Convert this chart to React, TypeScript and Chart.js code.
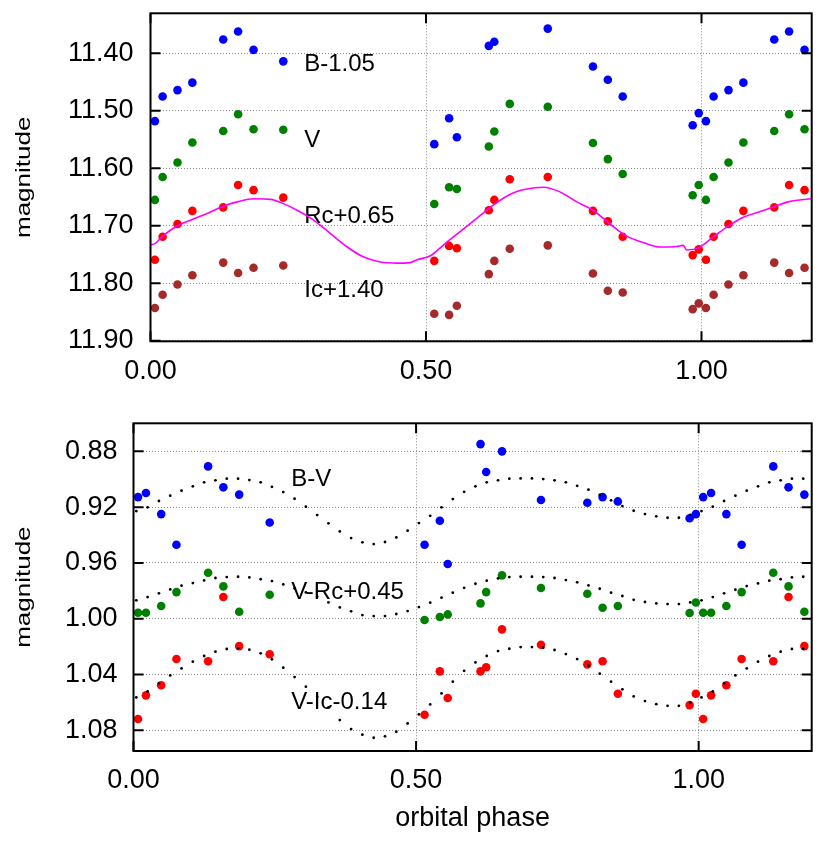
import { useEffect, useRef } from "react";
import { Chart, registerables } from "chart.js";

Chart.register(...registerables);

const FONT = "'Liberation Sans', Arial, Helvetica, sans-serif";

// ---- observed phases (base cycle) ----
const PHASE = [0.008, 0.022, 0.049, 0.076, 0.132, 0.159, 0.187, 0.241, 0.515, 0.542,
  0.556, 0.614, 0.624, 0.652, 0.721, 0.803, 0.830, 0.857, 0.984, 0.995];

// ---- top panel magnitudes ----
const B_SHIFTED = [11.518, 11.475, 11.464, 11.451, 11.376, 11.362, 11.394, 11.414, 11.558, 11.513,
  11.546, 11.387, 11.380, null, 11.357, 11.423, 11.446, 11.475, 11.525, 11.504];
const V_MAG = [11.655, 11.615, 11.590, 11.555, 11.535, 11.506, 11.532, 11.533, 11.662, 11.633,
  11.636, 11.562, 11.536, 11.488, 11.493, 11.556, 11.584, 11.610, 11.647, 11.629];
const RC_SHIFTED = [11.759, 11.719, 11.697, 11.674, 11.668, 11.629, 11.638, 11.651, 11.761, 11.735,
  11.739, 11.673, 11.655, 11.619, 11.615, 11.674, 11.692, 11.719, 11.751, 11.741];
const IC_SHIFTED = [11.843, 11.820, 11.802, 11.786, 11.764, 11.782, 11.773, 11.769, 11.853, 11.855,
  11.839, 11.784, 11.761, 11.740, 11.734, 11.783, 11.813, 11.816, 11.845, 11.835];

// ---- top panel continuous light curve (magenta) ----
const LC_PHASE = [0.000, 0.008, 0.022, 0.049, 0.076, 0.104, 0.132, 0.159, 0.187, 0.218,
  0.240, 0.266, 0.296, 0.326, 0.356, 0.386, 0.417, 0.447, 0.471, 0.484, 0.508,
  0.532, 0.562, 0.592, 0.622, 0.653, 0.683, 0.713, 0.743, 0.773, 0.803, 0.833, 0.864,
  0.894, 0.924, 0.955, 0.967, 0.973, 0.995, 1.022, 1.049, 1.076, 1.104, 1.131, 1.159, 1.200];
const LC_MAG = [11.733, 11.731, 11.718, 11.700, 11.689, 11.678, 11.666, 11.658, 11.653, 11.654,
  11.661, 11.673, 11.690, 11.713, 11.736, 11.754, 11.763, 11.765, 11.764, 11.759, 11.752,
  11.733, 11.710, 11.687, 11.664, 11.645, 11.636, 11.633, 11.641, 11.658, 11.673, 11.696, 11.718,
  11.729, 11.737, 11.736, 11.734, 11.742, 11.738, 11.719, 11.700, 11.685, 11.676, 11.667, 11.658, 11.653];

// ---- bottom panel colour indices ----
const BV = [0.9128, 0.9099, 0.925, 0.947, 0.8908, 0.9058, 0.911, 0.931, 0.947, 0.9297,
  0.9608, 0.8748, 0.8948, 0.880, 0.9149, 0.9168, 0.9128, 0.9159, 0.928, 0.925];
const VRC = [0.9957, 0.9957, 0.9909, 0.9809, 0.967, 0.9768, 0.995, 0.9828, 1.0009, 0.9988,
  0.9969, 0.989, 0.9809, 0.9689, 0.978, 0.9821, 0.9921, 0.9909, 0.9959, 0.9883];
const VIC = [1.0719, 1.0549, 1.0477, 1.0289, 1.0305, 0.9844, 1.0196, 1.0255, 1.0688, 1.0377,
  1.0568, 1.0377, 1.0348, 1.0076, 1.0186, 1.0327, 1.0305, 1.0538, 1.0619, 1.0538];

// ---- bottom panel model curves (dotted) ----
const CURVE_PHASE = [0.005, 0.025, 0.045, 0.065, 0.085, 0.105, 0.125, 0.145, 0.165, 0.185,
  0.205, 0.225, 0.245, 0.265, 0.285, 0.305, 0.325, 0.345, 0.365, 0.385,
  0.405, 0.425, 0.445, 0.465, 0.485, 0.505, 0.525, 0.545, 0.565, 0.585,
  0.605, 0.625, 0.645, 0.665, 0.685, 0.705, 0.725, 0.745, 0.765, 0.785,
  0.805, 0.825, 0.845, 0.865, 0.885, 0.905, 0.925, 0.945, 0.965, 0.985,
  1.005, 1.025, 1.045, 1.065, 1.085, 1.105, 1.125, 1.145, 1.165, 1.185];
const BV_CURVE = [0.9228, 0.9201, 0.9156, 0.9118, 0.9082, 0.9051, 0.9022, 0.9008, 0.8996, 0.8996,
  0.9006, 0.9022, 0.9054, 0.9092, 0.9140, 0.9197, 0.9257, 0.9316, 0.9374, 0.9422,
  0.9452, 0.9465, 0.9450, 0.9417, 0.9369, 0.9314, 0.9262, 0.9201, 0.9142, 0.9090,
  0.9051, 0.9022, 0.9008, 0.8996, 0.8994, 0.8994, 0.8999, 0.9008, 0.9022, 0.9047,
  0.9075, 0.9113, 0.9151, 0.9192, 0.9226, 0.9250, 0.9266, 0.9276, 0.9276, 0.9255,
  0.9228, 0.9197, 0.9156, 0.9118, 0.9082, 0.9051, 0.9022, 0.9008, 0.8996, 0.8996];
const VRC_CURVE = [0.9868, 0.9845, 0.9818, 0.9790, 0.9763, 0.9744, 0.9725, 0.9708, 0.9701, 0.9699,
  0.9704, 0.9716, 0.9730, 0.9754, 0.9782, 0.9811, 0.9842, 0.9883, 0.9919, 0.9947,
  0.9974, 0.9981, 0.9981, 0.9966, 0.9945, 0.9916, 0.9885, 0.9849, 0.9813, 0.9778,
  0.9749, 0.9727, 0.9711, 0.9701, 0.9699, 0.9699, 0.9701, 0.9708, 0.9723, 0.9739,
  0.9761, 0.9785, 0.9813, 0.9837, 0.9864, 0.9880, 0.9890, 0.9895, 0.9895, 0.9883,
  0.9868, 0.9845, 0.9818, 0.9792, 0.9766, 0.9747, 0.9727, 0.9716, 0.9704, 0.9699];
const VIC_CURVE = [1.0564, 1.0521, 1.0463, 1.0406, 1.0356, 1.0308, 1.0267, 1.0236, 1.0217, 1.0212,
  1.0222, 1.0248, 1.0291, 1.0351, 1.0418, 1.0487, 1.0559, 1.0636, 1.0726, 1.0791,
  1.0831, 1.0853, 1.0843, 1.0810, 1.0750, 1.0686, 1.0614, 1.0535, 1.0451, 1.0373,
  1.0313, 1.0267, 1.0232, 1.0215, 1.0203, 1.0203, 1.0208, 1.0224, 1.0253, 1.0289,
  1.0337, 1.0394, 1.0451, 1.0506, 1.0557, 1.0590, 1.0612, 1.0624, 1.0624, 1.0602,
  1.0564, 1.0521, 1.0463, 1.0406, 1.0356, 1.0308, 1.0267, 1.0236, 1.0217, 1.0215];

// ---- ticks ----
const X_TICKS = [0, 0.5, 1.0];
const TOP_Y_TICKS = [11.4, 11.5, 11.6, 11.7, 11.8, 11.9];
const BOTTOM_Y_TICKS = [0.88, 0.92, 0.96, 1.0, 1.04, 1.08];

// ---- in-plot labels ----
const TOP_LABEL_TEXT = ["B-1.05", "V", "Rc+0.65", "Ic+1.40"];
const TOP_LABEL_X = [0.279, 0.279, 0.279, 0.279];
const TOP_LABEL_Y = [11.420, 11.552, 11.683, 11.812];
const BOTTOM_LABEL_TEXT = ["B-V", "V-Rc+0.45", "V-Ic-0.14"];
const BOTTOM_LABEL_X = [0.279, 0.279, 0.279];
const BOTTOM_LABEL_Y = [0.900, 0.9814, 1.0601];

const X_MAX = 1.2;

function folded(values: (number | null)[]) {
  const pts: { x: number; y: number }[] = [];
  PHASE.forEach((p, i) => {
    const v = values[i];
    if (v == null) return;
    pts.push({ x: p, y: v });
    if (p + 1 <= X_MAX) pts.push({ x: p + 1, y: v });
  });
  return pts;
}

function pairs(xs: number[], ys: number[]) {
  return xs.map((x, i) => ({ x, y: ys[i] }));
}

const decorPlugin = {
  id: "decor",
  beforeDatasetsDraw(chart: any, _a: any, opts: any) {
    const { ctx, scales } = chart;
    ctx.save();
    ctx.fillStyle = "#000";
    ctx.font = `24px ${FONT}`;
    ctx.textAlign = "left";
    ctx.textBaseline = "middle";
    opts.labels.forEach((l: any) => {
      ctx.fillText(l.text, scales.x.getPixelForValue(l.x), scales.y.getPixelForValue(l.y));
    });
    ctx.restore();
  },
  afterDatasetsDraw(chart: any) {
    const { ctx, chartArea: a, scales } = chart;
    ctx.save();
    ctx.strokeStyle = "#000";
    ctx.lineWidth = 2;
    ctx.beginPath();
    scales.y.ticks.forEach((t: any) => {
      const py = scales.y.getPixelForValue(t.value);
      ctx.moveTo(a.left, py);
      ctx.lineTo(a.left + 10, py);
      ctx.moveTo(a.right - 10, py);
      ctx.lineTo(a.right, py);
    });
    scales.x.ticks.forEach((t: any) => {
      const px = scales.x.getPixelForValue(t.value);
      ctx.moveTo(px, a.bottom);
      ctx.lineTo(px, a.bottom - 10);
      ctx.moveTo(px, a.top);
      ctx.lineTo(px, a.top + 10);
    });
    ctx.stroke();
    ctx.strokeRect(a.left, a.top, a.right - a.left, a.bottom - a.top);
    ctx.restore();
  },
  afterDraw(chart: any, _a: any, opts: any) {
    const { ctx, chartArea: a } = chart;
    ctx.save();
    ctx.fillStyle = "#000";
    ctx.font = `26px ${FONT}`;
    ctx.textAlign = "center";
    ctx.textBaseline = "alphabetic";
    ctx.save();
    ctx.translate(opts.yTitleX, (a.top + a.bottom) / 2);
    ctx.rotate(-Math.PI / 2);
    ctx.scale(1, 0.8);
    ctx.fillText("magnitude", 0, 0);
    ctx.restore();
    if (opts.xTitle) {
      ctx.font = `27px ${FONT}`;
      ctx.fillText(opts.xTitle, (a.left + a.right) / 2, opts.xTitleY);
    }
    ctx.restore();
  },
};

function makeConfig(p: {
  datasets: any[];
  yMin: number;
  yMax: number;
  yTicks: number[];
  yWidth: number;
  xHeight: number;
  padTop: number;
  labelPad: number;
  xLabelPad: number;
  labels: any[];
  xTitle?: string;
  xTitleY?: number;
}) {
  const tickFont = { family: FONT, size: 27, lineHeight: 1 };
  const noPad = (s: any) => {
    s.paddingTop = 0;
    s.paddingBottom = 0;
    s.paddingLeft = 0;
    s.paddingRight = 0;
  };
  return {
    type: "scatter",
    data: { datasets: p.datasets },
    options: {
      responsive: false,
      animation: false,
      devicePixelRatio: 1,
      layout: { padding: { top: p.padTop, right: 10.3, left: 0, bottom: 0 } },
      plugins: {
        legend: { display: false },
        tooltip: { enabled: false },
        decor: { labels: p.labels, yTitleX: 30, xTitle: p.xTitle, xTitleY: p.xTitleY },
      },
      scales: {
        x: {
          type: "linear",
          min: 0,
          max: X_MAX,
          afterBuildTicks: (s: any) => {
            s.ticks = X_TICKS.map((v) => ({ value: v }));
          },
          afterFit: (s: any) => {
            s.height = p.xHeight;
            noPad(s);
          },
          ticks: {
            font: tickFont,
            color: "#000",
            padding: p.xLabelPad,
            maxRotation: 0,
            autoSkip: false,
            callback: (v: number) => Number(v).toFixed(2),
          },
          grid: { color: "#8a8a8a", lineWidth: 1, drawTicks: false },
          border: { display: false, dash: [1, 2] },
        },
        y: {
          type: "linear",
          reverse: true,
          min: p.yMin,
          max: p.yMax,
          afterBuildTicks: (s: any) => {
            s.ticks = p.yTicks.map((v) => ({ value: v }));
          },
          afterFit: (s: any) => {
            s.width = p.yWidth;
            noPad(s);
          },
          ticks: {
            font: tickFont,
            color: "#000",
            padding: p.labelPad,
            autoSkip: false,
            callback: (v: number) => Number(v).toFixed(2),
          },
          grid: { color: "#8a8a8a", lineWidth: 1, drawTicks: false },
          border: { display: false, dash: [1, 2] },
        },
      },
    },
    plugins: [decorPlugin],
  };
}

function pointSet(data: any[], color: string) {
  return {
    type: "scatter",
    data,
    pointRadius: 4.3,
    pointHoverRadius: 4.3,
    pointBackgroundColor: color,
    pointBorderWidth: 0,
    borderColor: color,
    showLine: false,
    order: 2,
  };
}

function dotCurve(data: any[]) {
  return {
    type: "scatter",
    data,
    pointRadius: 1.4,
    pointBackgroundColor: "#000",
    pointBorderWidth: 0,
    borderColor: "#000",
    showLine: false,
    order: 1,
  };
}

function ChartCanvas({ config, top, height }: { config: any; top: number; height: number }) {
  const ref = useRef<HTMLCanvasElement | null>(null);
  useEffect(() => {
    if (!ref.current) return;
    const chart = new Chart(ref.current, config);
    return () => chart.destroy();
  }, [config]);
  return (
    <canvas
      ref={ref}
      width={822}
      height={height}
      style={{ position: "absolute", left: 0, top, width: 822, height }}
    />
  );
}

const topConfig = makeConfig({
  datasets: [
    pointSet(folded(B_SHIFTED), "#0000ff"),
    pointSet(folded(V_MAG), "#008000"),
    pointSet(folded(RC_SHIFTED), "#ff0000"),
    pointSet(folded(IC_SHIFTED), "#a52a2a"),
    {
      type: "line",
      data: pairs(LC_PHASE, LC_MAG),
      borderColor: "#ff00ff",
      borderWidth: 1.6,
      pointRadius: 0,
      cubicInterpolationMode: "monotone",
      fill: false,
      order: 1,
    },
  ],
  yMin: 11.3304,
  yMax: 11.9009,
  yTicks: TOP_Y_TICKS,
  yWidth: 150.5,
  xHeight: 58.7,
  padTop: 13.3,
  labelPad: 17,
  xLabelPad: 17,
  labels: TOP_LABEL_TEXT.map((t, i) => ({ text: t, x: TOP_LABEL_X[i], y: TOP_LABEL_Y[i] })),
});

const bottomConfig = makeConfig({
  datasets: [
    pointSet(folded(BV), "#0000ff"),
    pointSet(folded(VRC), "#008000"),
    pointSet(folded(VIC), "#ff0000"),
    dotCurve(pairs(CURVE_PHASE, BV_CURVE)),
    dotCurve(pairs(CURVE_PHASE, VRC_CURVE)),
    dotCurve(pairs(CURVE_PHASE, VIC_CURVE)),
  ],
  yMin: 0.8599,
  yMax: 1.0948,
  yTicks: BOTTOM_Y_TICKS,
  yWidth: 133.5,
  xHeight: 93,
  padTop: 23.3,
  labelPad: 16,
  xLabelPad: 16,
  labels: BOTTOM_LABEL_TEXT.map((t, i) => ({ text: t, x: BOTTOM_LABEL_X[i], y: BOTTOM_LABEL_Y[i] })),
  xTitle: "orbital phase",
  xTitleY: 425.7,
});

export default function App() {
  return (
    <div
      style={{
        position: "absolute",
        left: 0,
        top: 0,
        width: 822,
        height: 844,
        background: "#fff",
        overflow: "hidden",
      }}
    >
      <ChartCanvas config={topConfig} top={0} height={400} />
      <ChartCanvas config={bottomConfig} top={400} height={444} />
    </div>
  );
}
